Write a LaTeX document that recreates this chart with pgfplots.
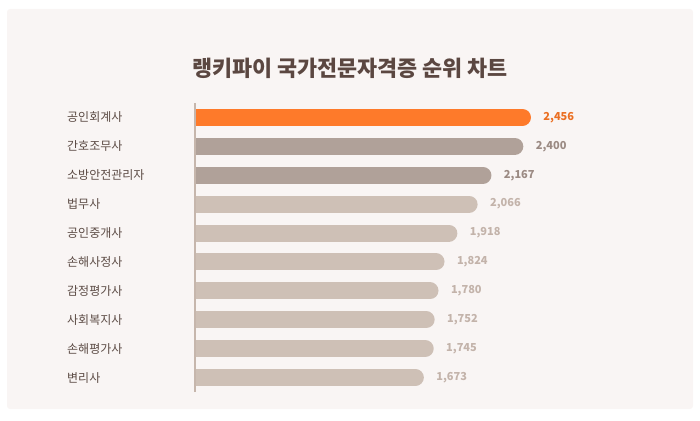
\documentclass[border=0pt]{standalone}
\usepackage{pgfplots}
\pgfplotsset{compat=1.18}
\usepackage{fontspec}
\setmainfont{Noto Sans CJK KR}
\definecolor{cardbg}{HTML}{F9F5F4}
\definecolor{titlec}{HTML}{5B4741}
\definecolor{labc}{HTML}{5C4B45}
\definecolor{barO}{HTML}{FE7A2A}
\definecolor{barD}{HTML}{B0A199}
\definecolor{barL}{HTML}{CEC0B6}
\definecolor{valO}{HTML}{EB6F22}
\definecolor{valD}{HTML}{9B8A83}
\definecolor{valL}{HTML}{C3B3AA}
\definecolor{axc}{HTML}{C6B6AC}
\begin{document}
\begin{tikzpicture}[x=1pt,y=1pt]
\path[use as bounding box] (0pt,0pt) rectangle (700pt,420pt);
\fill[cardbg, rounded corners=3pt] (7pt,11pt) rectangle (693pt,411pt);
\node[font=\fontsize{21.8}{24}\selectfont\bfseries, text=titlec, anchor=center] at (350pt,352pt) {랭키파이 국가전문자격증 순위 차트};
\begin{axis}[
  at={(195pt,28pt)}, anchor=south west,
  scale only axis, width=400pt, height=289pt,
  xmin=0, xmax=2924, ymin=-0.5, ymax=9.5,
  axis x line=none,
  axis y line=left,
  axis line style={-, draw=axc, line width=2.5pt},
  axis on top,
  ytick={0,...,9},
  yticklabels={변리사,손해평가사,사회복지사,감정평가사,손해사정사,공인중개사,법무사,소방안전관리자,간호조무사,공인회계사},
  major tick length=0pt,
  yticklabel style={anchor=west, inner sep=0pt, xshift=-128pt, text=labc, font=\fontsize{12}{14}\selectfont},
]
\addplot[draw=barO, line width=17pt, line cap=round, shorten >=8.5pt] coordinates {(0,9) (2456,9)} node[pos=1, anchor=west, inner sep=0pt, xshift=4pt, text=valO, font=\fontsize{11}{13}\selectfont\bfseries] {2,456};
\addplot[draw=barD, line width=17pt, line cap=round, shorten >=8.5pt] coordinates {(0,8) (2400,8)} node[pos=1, anchor=west, inner sep=0pt, xshift=4pt, text=valD, font=\fontsize{11}{13}\selectfont\bfseries] {2,400};
\addplot[draw=barD, line width=17pt, line cap=round, shorten >=8.5pt] coordinates {(0,7) (2167,7)} node[pos=1, anchor=west, inner sep=0pt, xshift=4pt, text=valD, font=\fontsize{11}{13}\selectfont\bfseries] {2,167};
\addplot[draw=barL, line width=17pt, line cap=round, shorten >=8.5pt] coordinates {(0,6) (2066,6)} node[pos=1, anchor=west, inner sep=0pt, xshift=4pt, text=valL, font=\fontsize{11}{13}\selectfont\bfseries] {2,066};
\addplot[draw=barL, line width=17pt, line cap=round, shorten >=8.5pt] coordinates {(0,5) (1918,5)} node[pos=1, anchor=west, inner sep=0pt, xshift=4pt, text=valL, font=\fontsize{11}{13}\selectfont\bfseries] {1,918};
\addplot[draw=barL, line width=17pt, line cap=round, shorten >=8.5pt] coordinates {(0,4) (1824,4)} node[pos=1, anchor=west, inner sep=0pt, xshift=4pt, text=valL, font=\fontsize{11}{13}\selectfont\bfseries] {1,824};
\addplot[draw=barL, line width=17pt, line cap=round, shorten >=8.5pt] coordinates {(0,3) (1780,3)} node[pos=1, anchor=west, inner sep=0pt, xshift=4pt, text=valL, font=\fontsize{11}{13}\selectfont\bfseries] {1,780};
\addplot[draw=barL, line width=17pt, line cap=round, shorten >=8.5pt] coordinates {(0,2) (1752,2)} node[pos=1, anchor=west, inner sep=0pt, xshift=4pt, text=valL, font=\fontsize{11}{13}\selectfont\bfseries] {1,752};
\addplot[draw=barL, line width=17pt, line cap=round, shorten >=8.5pt] coordinates {(0,1) (1745,1)} node[pos=1, anchor=west, inner sep=0pt, xshift=4pt, text=valL, font=\fontsize{11}{13}\selectfont\bfseries] {1,745};
\addplot[draw=barL, line width=17pt, line cap=round, shorten >=8.5pt] coordinates {(0,0) (1673,0)} node[pos=1, anchor=west, inner sep=0pt, xshift=4pt, text=valL, font=\fontsize{11}{13}\selectfont\bfseries] {1,673};
\end{axis}
\end{tikzpicture}
\end{document}
